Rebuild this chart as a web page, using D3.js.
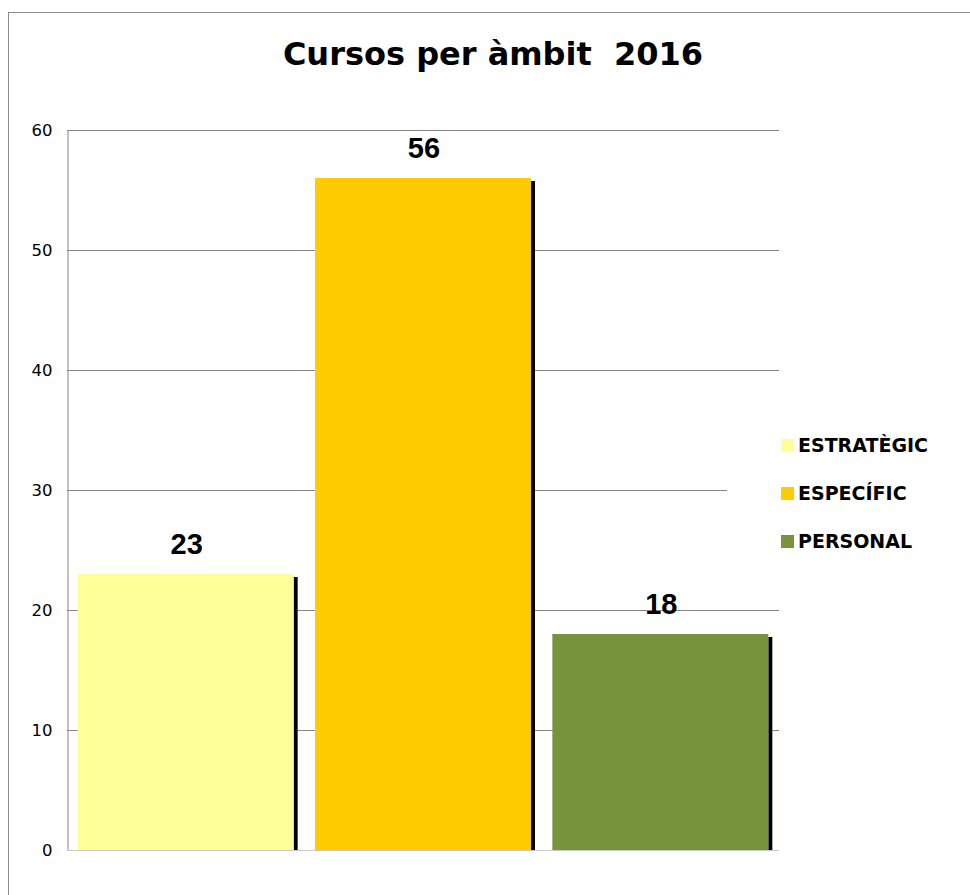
<!DOCTYPE html>
<html>
<head>
<meta charset="utf-8">
<script src="https://cdn.jsdelivr.net/npm/d3@7"></script>
<style>
  body { margin: 0; background: #fff; }
  svg { display: block; }
</style>
</head>
<body>
<div id="chart"></div>
<script>
// chart data
var categories = ["ESTRATÈGIC", "ESPECÍFIC", "PERSONAL"];
var values = [23, 56, 18];
var yTicks = [0, 10, 20, 30, 40, 50, 60];
var title = "Cursos per àmbit  2016";

// bar colours, same order as categories
var colors = ["#ffff99", "#ffcc00", "#77933c"];

var width = 970;
var height = 895;
var plot = { left: 67, right: 779, top: 130, bottom: 850 };

var svg = d3.select("#chart")
  .append("svg")
    .attr("width", width)
    .attr("height", height);

// outer frame (runs off the right and bottom of the picture)
svg.append("rect")
  .attr("x", 8.5)
  .attr("y", 12.5)
  .attr("width", 1000)
  .attr("height", 1000)
  .style("fill", "#fff")
  .style("stroke", "#8c8c8c")
  .style("stroke-width", 1);

// scales
var x = d3.scaleBand()
  .domain(categories)
  .range([plot.left, plot.right])
  .paddingInner(0.09)
  .paddingOuter(0.045);

var y = d3.scaleLinear()
  .domain([0, 60])
  .range([plot.bottom, plot.top]);

// title
svg.append("text")
  .attr("x", 493)
  .attr("y", 65)
  .style("text-anchor", "middle")
  .style("white-space", "pre")
  .style("font-family", "'DejaVu Sans', Verdana, sans-serif")
  .style("font-weight", "bold")
  .style("font-size", "32px")
  .text(title);

// gridlines
svg.append("g")
  .selectAll("line")
  .data(yTicks.filter(function(d) { return d > 0; }))
  .enter().append("line")
    .attr("x1", plot.left)
    .attr("x2", plot.right)
    .attr("y1", function(d) { return Math.round(y(d)) + 0.5; })
    .attr("y2", function(d) { return Math.round(y(d)) + 0.5; })
    .style("stroke", "#868686")
    .style("stroke-width", 1);

// y axis (no tick marks, labels only)
var yAxis = d3.axisLeft(y)
  .tickValues(yTicks)
  .tickSize(0)
  .tickPadding(15);

var yg = svg.append("g")
  .attr("transform", "translate(" + (plot.left + 0.5) + ",0)")
  .call(yAxis);

yg.select(".domain").style("stroke", "#868686");
yg.selectAll("text")
  .style("font-family", "'DejaVu Sans', Verdana, sans-serif")
  .style("font-size", "16.5px")
  .style("fill", "#000");

// x axis baseline
svg.append("line")
  .attr("x1", plot.left)
  .attr("x2", plot.right)
  .attr("y1", plot.bottom + 0.5)
  .attr("y2", plot.bottom + 0.5)
  .style("stroke", "#c8c8c8");

// bar shadows
svg.append("g")
  .selectAll("rect")
  .data(values)
  .enter().append("rect")
    .attr("x", function(d, i) { return x(categories[i]) + x.bandwidth(); })
    .attr("y", function(d) { return y(d) + 3; })
    .attr("width", 4)
    .attr("height", function(d) { return plot.bottom - y(d) - 3; })
    .style("fill", "#000");

// bars
svg.append("g")
  .selectAll("rect")
  .data(values)
  .enter().append("rect")
    .attr("x", function(d, i) { return x(categories[i]); })
    .attr("y", function(d) { return y(d); })
    .attr("width", x.bandwidth())
    .attr("height", function(d) { return plot.bottom - y(d); })
    .style("fill", function(d, i) { return colors[i]; });

// value labels
svg.append("g")
  .selectAll("text")
  .data(values)
  .enter().append("text")
    .attr("x", function(d, i) { return x(categories[i]) + x.bandwidth() / 2 + 1; })
    .attr("y", function(d) { return y(d) - 20; })
    .style("text-anchor", "middle")
    .style("font-family", "'Liberation Sans', Arial, sans-serif")
    .style("font-weight", "bold")
    .style("font-size", "29px")
    .text(function(d) { return d; });

// legend
var legend = svg.append("g");

legend.append("rect")
  .attr("x", 727)
  .attr("y", 420)
  .attr("width", 215)
  .attr("height", 145)
  .style("fill", "#fff");

var items = legend.selectAll(".item")
  .data(categories)
  .enter().append("g")
    .attr("class", "item")
    .attr("transform", function(d, i) { return "translate(781," + (439 + i * 48) + ")"; });

items.append("rect")
  .attr("width", 13)
  .attr("height", 13)
  .style("fill", function(d, i) { return colors[i]; });

items.append("text")
  .attr("x", 17)
  .attr("y", 13)
  .style("font-family", "'DejaVu Sans', Verdana, sans-serif")
  .style("font-weight", "bold")
  .style("font-size", "19px")
  .text(function(d) { return d; });
</script>
</body>
</html>
